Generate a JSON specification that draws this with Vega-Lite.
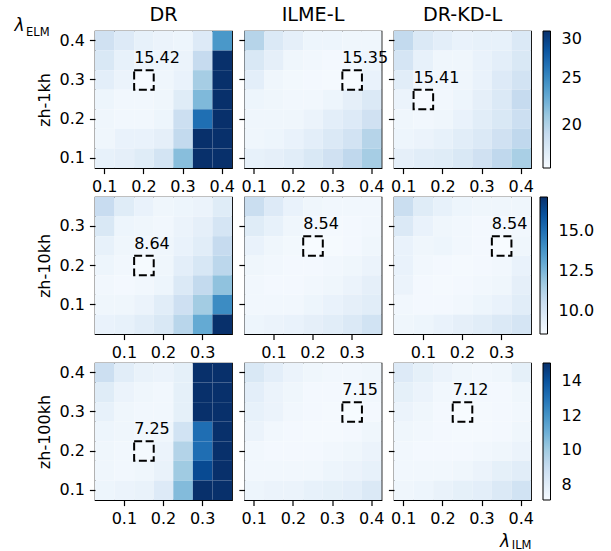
{
  "$schema": "https://vega.github.io/schema/vega-lite/v6.json",
  "background": "white",
  "padding": {"left": 14, "top": 5, "right": 5, "bottom": 0},
  "config": {
    "font": "DejaVu Sans",
    "view": {"stroke": "black", "strokeWidth": 1.2},
    "scale": {"rectBandPaddingInner": 0, "bandPaddingOuter": 0},
    "axis": {"domain": false, "grid": false, "labelFont": "DejaVu Sans", "labelFontSize": 16, "labelColor": "black", "tickColor": "black", "tickSize": 5.6, "tickWidth": 1.2, "labelPadding": 5, "titleFont": "DejaVu Sans", "titleFontSize": 16, "titleFontWeight": "normal", "titleColor": "black", "titlePadding": 6.4},
    "axisX": {"labelAngle": 0},
    "title": {"fontSize": 19.2, "fontWeight": "normal", "font": "DejaVu Sans", "color": "black", "offset": 5.6},
    "legend": {"orient": "right", "offset": 7.5, "gradientLength": 137, "gradientThickness": 7.5, "gradientStrokeColor": "black", "gradientStrokeWidth": 1, "labelFont": "DejaVu Sans", "labelFontSize": 16, "labelColor": "black", "labelOffset": 11, "labelOverlap": false, "padding": 0}
  },
  "title": {"text": "λ", "anchor": "start", "fontSize": 17, "fontStyle": "italic", "offset": 0, "dx": -11.5, "dy": 29},
  "data": {"values": [
{"set":"1kh","model":"DR","ilm":0.1,"elm":0.4,"wer":18.28},{"set":"1kh","model":"DR","ilm":0.15,"elm":0.4,"wer":17.25},{"set":"1kh","model":"DR","ilm":0.2,"elm":0.4,"wer":16.52},{"set":"1kh","model":"DR","ilm":0.25,"elm":0.4,"wer":16.23},{"set":"1kh","model":"DR","ilm":0.3,"elm":0.4,"wer":16.08},{"set":"1kh","model":"DR","ilm":0.35,"elm":0.4,"wer":17.25},{"set":"1kh","model":"DR","ilm":0.4,"elm":0.4,"wer":24.14},
{"set":"1kh","model":"DR","ilm":0.1,"elm":0.35,"wer":17.55},{"set":"1kh","model":"DR","ilm":0.15,"elm":0.35,"wer":16.52},{"set":"1kh","model":"DR","ilm":0.2,"elm":0.35,"wer":16.08},{"set":"1kh","model":"DR","ilm":0.25,"elm":0.35,"wer":16.08},{"set":"1kh","model":"DR","ilm":0.3,"elm":0.35,"wer":16.23},{"set":"1kh","model":"DR","ilm":0.35,"elm":0.35,"wer":19.01},{"set":"1kh","model":"DR","ilm":0.4,"elm":0.35,"wer":33.5},
{"set":"1kh","model":"DR","ilm":0.1,"elm":0.3,"wer":16.82},{"set":"1kh","model":"DR","ilm":0.15,"elm":0.3,"wer":16.23},{"set":"1kh","model":"DR","ilm":0.2,"elm":0.3,"wer":15.42,"best":true},{"set":"1kh","model":"DR","ilm":0.25,"elm":0.3,"wer":15.94},{"set":"1kh","model":"DR","ilm":0.3,"elm":0.3,"wer":16.38},{"set":"1kh","model":"DR","ilm":0.35,"elm":0.3,"wer":20.48},{"set":"1kh","model":"DR","ilm":0.4,"elm":0.3,"wer":36.2},
{"set":"1kh","model":"DR","ilm":0.1,"elm":0.25,"wer":16.08},{"set":"1kh","model":"DR","ilm":0.15,"elm":0.25,"wer":15.79},{"set":"1kh","model":"DR","ilm":0.2,"elm":0.25,"wer":15.79},{"set":"1kh","model":"DR","ilm":0.25,"elm":0.25,"wer":15.94},{"set":"1kh","model":"DR","ilm":0.3,"elm":0.25,"wer":17.11},{"set":"1kh","model":"DR","ilm":0.35,"elm":0.25,"wer":21.94},{"set":"1kh","model":"DR","ilm":0.4,"elm":0.25,"wer":38.9},
{"set":"1kh","model":"DR","ilm":0.1,"elm":0.2,"wer":15.94},{"set":"1kh","model":"DR","ilm":0.15,"elm":0.2,"wer":15.79},{"set":"1kh","model":"DR","ilm":0.2,"elm":0.2,"wer":15.79},{"set":"1kh","model":"DR","ilm":0.25,"elm":0.2,"wer":16.08},{"set":"1kh","model":"DR","ilm":0.3,"elm":0.2,"wer":18.57},{"set":"1kh","model":"DR","ilm":0.35,"elm":0.2,"wer":26.48},{"set":"1kh","model":"DR","ilm":0.4,"elm":0.2,"wer":41.3},
{"set":"1kh","model":"DR","ilm":0.1,"elm":0.15,"wer":15.94},{"set":"1kh","model":"DR","ilm":0.15,"elm":0.15,"wer":16.38},{"set":"1kh","model":"DR","ilm":0.2,"elm":0.15,"wer":16.38},{"set":"1kh","model":"DR","ilm":0.25,"elm":0.15,"wer":16.67},{"set":"1kh","model":"DR","ilm":0.3,"elm":0.15,"wer":19.16},{"set":"1kh","model":"DR","ilm":0.35,"elm":0.15,"wer":31.8},{"set":"1kh","model":"DR","ilm":0.4,"elm":0.15,"wer":44.6},
{"set":"1kh","model":"DR","ilm":0.1,"elm":0.1,"wer":16.52},{"set":"1kh","model":"DR","ilm":0.15,"elm":0.1,"wer":16.67},{"set":"1kh","model":"DR","ilm":0.2,"elm":0.1,"wer":17.11},{"set":"1kh","model":"DR","ilm":0.25,"elm":0.1,"wer":17.99},{"set":"1kh","model":"DR","ilm":0.3,"elm":0.1,"wer":21.65},{"set":"1kh","model":"DR","ilm":0.35,"elm":0.1,"wer":34.7},{"set":"1kh","model":"DR","ilm":0.4,"elm":0.1,"wer":48.2},
{"set":"1kh","model":"ILME-L","ilm":0.1,"elm":0.4,"wer":19.75},{"set":"1kh","model":"ILME-L","ilm":0.15,"elm":0.4,"wer":17.4},{"set":"1kh","model":"ILME-L","ilm":0.2,"elm":0.4,"wer":16.67},{"set":"1kh","model":"ILME-L","ilm":0.25,"elm":0.4,"wer":16.08},{"set":"1kh","model":"ILME-L","ilm":0.3,"elm":0.4,"wer":16.08},{"set":"1kh","model":"ILME-L","ilm":0.35,"elm":0.4,"wer":15.94},{"set":"1kh","model":"ILME-L","ilm":0.4,"elm":0.4,"wer":15.94},
{"set":"1kh","model":"ILME-L","ilm":0.1,"elm":0.35,"wer":17.55},{"set":"1kh","model":"ILME-L","ilm":0.15,"elm":0.35,"wer":16.67},{"set":"1kh","model":"ILME-L","ilm":0.2,"elm":0.35,"wer":15.94},{"set":"1kh","model":"ILME-L","ilm":0.25,"elm":0.35,"wer":15.79},{"set":"1kh","model":"ILME-L","ilm":0.3,"elm":0.35,"wer":15.64},{"set":"1kh","model":"ILME-L","ilm":0.35,"elm":0.35,"wer":15.79},{"set":"1kh","model":"ILME-L","ilm":0.4,"elm":0.35,"wer":16.08},
{"set":"1kh","model":"ILME-L","ilm":0.1,"elm":0.3,"wer":16.82},{"set":"1kh","model":"ILME-L","ilm":0.15,"elm":0.3,"wer":15.94},{"set":"1kh","model":"ILME-L","ilm":0.2,"elm":0.3,"wer":15.72},{"set":"1kh","model":"ILME-L","ilm":0.25,"elm":0.3,"wer":15.64},{"set":"1kh","model":"ILME-L","ilm":0.3,"elm":0.3,"wer":15.57},{"set":"1kh","model":"ILME-L","ilm":0.35,"elm":0.3,"wer":15.35,"best":true},{"set":"1kh","model":"ILME-L","ilm":0.4,"elm":0.3,"wer":16.38},
{"set":"1kh","model":"ILME-L","ilm":0.1,"elm":0.25,"wer":16.08},{"set":"1kh","model":"ILME-L","ilm":0.15,"elm":0.25,"wer":15.94},{"set":"1kh","model":"ILME-L","ilm":0.2,"elm":0.25,"wer":15.79},{"set":"1kh","model":"ILME-L","ilm":0.25,"elm":0.25,"wer":15.79},{"set":"1kh","model":"ILME-L","ilm":0.3,"elm":0.25,"wer":16.08},{"set":"1kh","model":"ILME-L","ilm":0.35,"elm":0.25,"wer":16.67},{"set":"1kh","model":"ILME-L","ilm":0.4,"elm":0.25,"wer":17.4},
{"set":"1kh","model":"ILME-L","ilm":0.1,"elm":0.2,"wer":15.94},{"set":"1kh","model":"ILME-L","ilm":0.15,"elm":0.2,"wer":15.94},{"set":"1kh","model":"ILME-L","ilm":0.2,"elm":0.2,"wer":15.94},{"set":"1kh","model":"ILME-L","ilm":0.25,"elm":0.2,"wer":16.23},{"set":"1kh","model":"ILME-L","ilm":0.3,"elm":0.2,"wer":16.82},{"set":"1kh","model":"ILME-L","ilm":0.35,"elm":0.2,"wer":17.25},{"set":"1kh","model":"ILME-L","ilm":0.4,"elm":0.2,"wer":18.28},
{"set":"1kh","model":"ILME-L","ilm":0.1,"elm":0.15,"wer":15.94},{"set":"1kh","model":"ILME-L","ilm":0.15,"elm":0.15,"wer":16.08},{"set":"1kh","model":"ILME-L","ilm":0.2,"elm":0.15,"wer":16.38},{"set":"1kh","model":"ILME-L","ilm":0.25,"elm":0.15,"wer":16.82},{"set":"1kh","model":"ILME-L","ilm":0.3,"elm":0.15,"wer":17.4},{"set":"1kh","model":"ILME-L","ilm":0.35,"elm":0.15,"wer":18.13},{"set":"1kh","model":"ILME-L","ilm":0.4,"elm":0.15,"wer":19.75},
{"set":"1kh","model":"ILME-L","ilm":0.1,"elm":0.1,"wer":16.52},{"set":"1kh","model":"ILME-L","ilm":0.15,"elm":0.1,"wer":16.67},{"set":"1kh","model":"ILME-L","ilm":0.2,"elm":0.1,"wer":16.96},{"set":"1kh","model":"ILME-L","ilm":0.25,"elm":0.1,"wer":17.55},{"set":"1kh","model":"ILME-L","ilm":0.3,"elm":0.1,"wer":18.28},{"set":"1kh","model":"ILME-L","ilm":0.35,"elm":0.1,"wer":19.31},{"set":"1kh","model":"ILME-L","ilm":0.4,"elm":0.1,"wer":20.48},
{"set":"1kh","model":"DR-KD-L","ilm":0.1,"elm":0.4,"wer":19.16},{"set":"1kh","model":"DR-KD-L","ilm":0.15,"elm":0.4,"wer":17.4},{"set":"1kh","model":"DR-KD-L","ilm":0.2,"elm":0.4,"wer":16.82},{"set":"1kh","model":"DR-KD-L","ilm":0.25,"elm":0.4,"wer":16.38},{"set":"1kh","model":"DR-KD-L","ilm":0.3,"elm":0.4,"wer":16.52},{"set":"1kh","model":"DR-KD-L","ilm":0.35,"elm":0.4,"wer":16.52},{"set":"1kh","model":"DR-KD-L","ilm":0.4,"elm":0.4,"wer":17.4},
{"set":"1kh","model":"DR-KD-L","ilm":0.1,"elm":0.35,"wer":17.84},{"set":"1kh","model":"DR-KD-L","ilm":0.15,"elm":0.35,"wer":16.52},{"set":"1kh","model":"DR-KD-L","ilm":0.2,"elm":0.35,"wer":15.94},{"set":"1kh","model":"DR-KD-L","ilm":0.25,"elm":0.35,"wer":15.94},{"set":"1kh","model":"DR-KD-L","ilm":0.3,"elm":0.35,"wer":16.38},{"set":"1kh","model":"DR-KD-L","ilm":0.35,"elm":0.35,"wer":16.82},{"set":"1kh","model":"DR-KD-L","ilm":0.4,"elm":0.35,"wer":17.55},
{"set":"1kh","model":"DR-KD-L","ilm":0.1,"elm":0.3,"wer":16.96},{"set":"1kh","model":"DR-KD-L","ilm":0.15,"elm":0.3,"wer":15.94},{"set":"1kh","model":"DR-KD-L","ilm":0.2,"elm":0.3,"wer":15.79},{"set":"1kh","model":"DR-KD-L","ilm":0.25,"elm":0.3,"wer":15.94},{"set":"1kh","model":"DR-KD-L","ilm":0.3,"elm":0.3,"wer":16.38},{"set":"1kh","model":"DR-KD-L","ilm":0.35,"elm":0.3,"wer":17.25},{"set":"1kh","model":"DR-KD-L","ilm":0.4,"elm":0.3,"wer":18.13},
{"set":"1kh","model":"DR-KD-L","ilm":0.1,"elm":0.25,"wer":16.23},{"set":"1kh","model":"DR-KD-L","ilm":0.15,"elm":0.25,"wer":15.41,"best":true},{"set":"1kh","model":"DR-KD-L","ilm":0.2,"elm":0.25,"wer":15.79},{"set":"1kh","model":"DR-KD-L","ilm":0.25,"elm":0.25,"wer":16.08},{"set":"1kh","model":"DR-KD-L","ilm":0.3,"elm":0.25,"wer":16.67},{"set":"1kh","model":"DR-KD-L","ilm":0.35,"elm":0.25,"wer":17.4},{"set":"1kh","model":"DR-KD-L","ilm":0.4,"elm":0.25,"wer":19.01},
{"set":"1kh","model":"DR-KD-L","ilm":0.1,"elm":0.2,"wer":15.94},{"set":"1kh","model":"DR-KD-L","ilm":0.15,"elm":0.2,"wer":15.79},{"set":"1kh","model":"DR-KD-L","ilm":0.2,"elm":0.2,"wer":15.94},{"set":"1kh","model":"DR-KD-L","ilm":0.25,"elm":0.2,"wer":16.38},{"set":"1kh","model":"DR-KD-L","ilm":0.3,"elm":0.2,"wer":16.96},{"set":"1kh","model":"DR-KD-L","ilm":0.35,"elm":0.2,"wer":17.55},{"set":"1kh","model":"DR-KD-L","ilm":0.4,"elm":0.2,"wer":18.57},
{"set":"1kh","model":"DR-KD-L","ilm":0.1,"elm":0.15,"wer":16.08},{"set":"1kh","model":"DR-KD-L","ilm":0.15,"elm":0.15,"wer":16.23},{"set":"1kh","model":"DR-KD-L","ilm":0.2,"elm":0.15,"wer":16.52},{"set":"1kh","model":"DR-KD-L","ilm":0.25,"elm":0.15,"wer":16.96},{"set":"1kh","model":"DR-KD-L","ilm":0.3,"elm":0.15,"wer":17.4},{"set":"1kh","model":"DR-KD-L","ilm":0.35,"elm":0.15,"wer":18.28},{"set":"1kh","model":"DR-KD-L","ilm":0.4,"elm":0.15,"wer":19.31},
{"set":"1kh","model":"DR-KD-L","ilm":0.1,"elm":0.1,"wer":16.67},{"set":"1kh","model":"DR-KD-L","ilm":0.15,"elm":0.1,"wer":16.96},{"set":"1kh","model":"DR-KD-L","ilm":0.2,"elm":0.1,"wer":17.11},{"set":"1kh","model":"DR-KD-L","ilm":0.25,"elm":0.1,"wer":17.55},{"set":"1kh","model":"DR-KD-L","ilm":0.3,"elm":0.1,"wer":18.28},{"set":"1kh","model":"DR-KD-L","ilm":0.35,"elm":0.1,"wer":19.31},{"set":"1kh","model":"DR-KD-L","ilm":0.4,"elm":0.1,"wer":20.33},
{"set":"10kh","model":"DR","ilm":0.05,"elm":0.35,"wer":10.59},{"set":"10kh","model":"DR","ilm":0.1,"elm":0.35,"wer":9.57},{"set":"10kh","model":"DR","ilm":0.15,"elm":0.35,"wer":9.14},{"set":"10kh","model":"DR","ilm":0.2,"elm":0.35,"wer":8.88},{"set":"10kh","model":"DR","ilm":0.25,"elm":0.35,"wer":8.97},{"set":"10kh","model":"DR","ilm":0.3,"elm":0.35,"wer":9.05},{"set":"10kh","model":"DR","ilm":0.35,"elm":0.35,"wer":9.57},
{"set":"10kh","model":"DR","ilm":0.05,"elm":0.3,"wer":9.82},{"set":"10kh","model":"DR","ilm":0.1,"elm":0.3,"wer":8.97},{"set":"10kh","model":"DR","ilm":0.15,"elm":0.3,"wer":8.88},{"set":"10kh","model":"DR","ilm":0.2,"elm":0.3,"wer":8.8},{"set":"10kh","model":"DR","ilm":0.25,"elm":0.3,"wer":9.05},{"set":"10kh","model":"DR","ilm":0.3,"elm":0.3,"wer":9.31},{"set":"10kh","model":"DR","ilm":0.35,"elm":0.3,"wer":9.99},
{"set":"10kh","model":"DR","ilm":0.05,"elm":0.25,"wer":9.22},{"set":"10kh","model":"DR","ilm":0.1,"elm":0.25,"wer":8.88},{"set":"10kh","model":"DR","ilm":0.15,"elm":0.25,"wer":8.8},{"set":"10kh","model":"DR","ilm":0.2,"elm":0.25,"wer":8.88},{"set":"10kh","model":"DR","ilm":0.25,"elm":0.25,"wer":9.14},{"set":"10kh","model":"DR","ilm":0.3,"elm":0.25,"wer":9.48},{"set":"10kh","model":"DR","ilm":0.35,"elm":0.25,"wer":10.68},
{"set":"10kh","model":"DR","ilm":0.05,"elm":0.2,"wer":8.97},{"set":"10kh","model":"DR","ilm":0.1,"elm":0.2,"wer":8.8},{"set":"10kh","model":"DR","ilm":0.15,"elm":0.2,"wer":8.64,"best":true},{"set":"10kh","model":"DR","ilm":0.2,"elm":0.2,"wer":8.88},{"set":"10kh","model":"DR","ilm":0.25,"elm":0.2,"wer":9.4},{"set":"10kh","model":"DR","ilm":0.3,"elm":0.2,"wer":9.91},{"set":"10kh","model":"DR","ilm":0.35,"elm":0.2,"wer":10.94},
{"set":"10kh","model":"DR","ilm":0.05,"elm":0.15,"wer":8.8},{"set":"10kh","model":"DR","ilm":0.1,"elm":0.15,"wer":8.71},{"set":"10kh","model":"DR","ilm":0.15,"elm":0.15,"wer":8.8},{"set":"10kh","model":"DR","ilm":0.2,"elm":0.15,"wer":8.97},{"set":"10kh","model":"DR","ilm":0.25,"elm":0.15,"wer":9.74},{"set":"10kh","model":"DR","ilm":0.3,"elm":0.15,"wer":10.77},{"set":"10kh","model":"DR","ilm":0.35,"elm":0.15,"wer":12.05},
{"set":"10kh","model":"DR","ilm":0.05,"elm":0.1,"wer":8.88},{"set":"10kh","model":"DR","ilm":0.1,"elm":0.1,"wer":8.88},{"set":"10kh","model":"DR","ilm":0.15,"elm":0.1,"wer":9.05},{"set":"10kh","model":"DR","ilm":0.2,"elm":0.1,"wer":9.48},{"set":"10kh","model":"DR","ilm":0.25,"elm":0.1,"wer":10.34},{"set":"10kh","model":"DR","ilm":0.3,"elm":0.1,"wer":11.62},{"set":"10kh","model":"DR","ilm":0.35,"elm":0.1,"wer":14.1},
{"set":"10kh","model":"DR","ilm":0.05,"elm":0.05,"wer":9.14},{"set":"10kh","model":"DR","ilm":0.1,"elm":0.05,"wer":9.22},{"set":"10kh","model":"DR","ilm":0.15,"elm":0.05,"wer":9.48},{"set":"10kh","model":"DR","ilm":0.2,"elm":0.05,"wer":9.82},{"set":"10kh","model":"DR","ilm":0.25,"elm":0.05,"wer":11.02},{"set":"10kh","model":"DR","ilm":0.3,"elm":0.05,"wer":12.99},{"set":"10kh","model":"DR","ilm":0.35,"elm":0.05,"wer":17.6},
{"set":"10kh","model":"ILME-L","ilm":0.05,"elm":0.35,"wer":10.51},{"set":"10kh","model":"ILME-L","ilm":0.1,"elm":0.35,"wer":9.65},{"set":"10kh","model":"ILME-L","ilm":0.15,"elm":0.35,"wer":9.14},{"set":"10kh","model":"ILME-L","ilm":0.2,"elm":0.35,"wer":8.88},{"set":"10kh","model":"ILME-L","ilm":0.25,"elm":0.35,"wer":8.8},{"set":"10kh","model":"ILME-L","ilm":0.3,"elm":0.35,"wer":8.8},{"set":"10kh","model":"ILME-L","ilm":0.35,"elm":0.35,"wer":8.8},
{"set":"10kh","model":"ILME-L","ilm":0.05,"elm":0.3,"wer":9.57},{"set":"10kh","model":"ILME-L","ilm":0.1,"elm":0.3,"wer":9.22},{"set":"10kh","model":"ILME-L","ilm":0.15,"elm":0.3,"wer":8.88},{"set":"10kh","model":"ILME-L","ilm":0.2,"elm":0.3,"wer":8.71},{"set":"10kh","model":"ILME-L","ilm":0.25,"elm":0.3,"wer":8.67},{"set":"10kh","model":"ILME-L","ilm":0.3,"elm":0.3,"wer":8.71},{"set":"10kh","model":"ILME-L","ilm":0.35,"elm":0.3,"wer":8.8},
{"set":"10kh","model":"ILME-L","ilm":0.05,"elm":0.25,"wer":9.14},{"set":"10kh","model":"ILME-L","ilm":0.1,"elm":0.25,"wer":8.88},{"set":"10kh","model":"ILME-L","ilm":0.15,"elm":0.25,"wer":8.75},{"set":"10kh","model":"ILME-L","ilm":0.2,"elm":0.25,"wer":8.54,"best":true},{"set":"10kh","model":"ILME-L","ilm":0.25,"elm":0.25,"wer":8.63},{"set":"10kh","model":"ILME-L","ilm":0.3,"elm":0.25,"wer":8.71},{"set":"10kh","model":"ILME-L","ilm":0.35,"elm":0.25,"wer":8.88},
{"set":"10kh","model":"ILME-L","ilm":0.05,"elm":0.2,"wer":8.88},{"set":"10kh","model":"ILME-L","ilm":0.1,"elm":0.2,"wer":8.8},{"set":"10kh","model":"ILME-L","ilm":0.15,"elm":0.2,"wer":8.71},{"set":"10kh","model":"ILME-L","ilm":0.2,"elm":0.2,"wer":8.71},{"set":"10kh","model":"ILME-L","ilm":0.25,"elm":0.2,"wer":8.8},{"set":"10kh","model":"ILME-L","ilm":0.3,"elm":0.2,"wer":8.88},{"set":"10kh","model":"ILME-L","ilm":0.35,"elm":0.2,"wer":9.05},
{"set":"10kh","model":"ILME-L","ilm":0.05,"elm":0.15,"wer":8.8},{"set":"10kh","model":"ILME-L","ilm":0.1,"elm":0.15,"wer":8.71},{"set":"10kh","model":"ILME-L","ilm":0.15,"elm":0.15,"wer":8.71},{"set":"10kh","model":"ILME-L","ilm":0.2,"elm":0.15,"wer":8.8},{"set":"10kh","model":"ILME-L","ilm":0.25,"elm":0.15,"wer":8.88},{"set":"10kh","model":"ILME-L","ilm":0.3,"elm":0.15,"wer":9.05},{"set":"10kh","model":"ILME-L","ilm":0.35,"elm":0.15,"wer":9.31},
{"set":"10kh","model":"ILME-L","ilm":0.05,"elm":0.1,"wer":8.8},{"set":"10kh","model":"ILME-L","ilm":0.1,"elm":0.1,"wer":8.8},{"set":"10kh","model":"ILME-L","ilm":0.15,"elm":0.1,"wer":8.8},{"set":"10kh","model":"ILME-L","ilm":0.2,"elm":0.1,"wer":8.97},{"set":"10kh","model":"ILME-L","ilm":0.25,"elm":0.1,"wer":9.14},{"set":"10kh","model":"ILME-L","ilm":0.3,"elm":0.1,"wer":9.31},{"set":"10kh","model":"ILME-L","ilm":0.35,"elm":0.1,"wer":9.48},
{"set":"10kh","model":"ILME-L","ilm":0.05,"elm":0.05,"wer":8.97},{"set":"10kh","model":"ILME-L","ilm":0.1,"elm":0.05,"wer":9.05},{"set":"10kh","model":"ILME-L","ilm":0.15,"elm":0.05,"wer":9.14},{"set":"10kh","model":"ILME-L","ilm":0.2,"elm":0.05,"wer":9.31},{"set":"10kh","model":"ILME-L","ilm":0.25,"elm":0.05,"wer":9.48},{"set":"10kh","model":"ILME-L","ilm":0.3,"elm":0.05,"wer":9.74},{"set":"10kh","model":"ILME-L","ilm":0.35,"elm":0.05,"wer":10.17},
{"set":"10kh","model":"DR-KD-L","ilm":0.05,"elm":0.35,"wer":10.51},{"set":"10kh","model":"DR-KD-L","ilm":0.1,"elm":0.35,"wer":9.57},{"set":"10kh","model":"DR-KD-L","ilm":0.15,"elm":0.35,"wer":9.22},{"set":"10kh","model":"DR-KD-L","ilm":0.2,"elm":0.35,"wer":8.97},{"set":"10kh","model":"DR-KD-L","ilm":0.25,"elm":0.35,"wer":8.88},{"set":"10kh","model":"DR-KD-L","ilm":0.3,"elm":0.35,"wer":8.88},{"set":"10kh","model":"DR-KD-L","ilm":0.35,"elm":0.35,"wer":8.88},
{"set":"10kh","model":"DR-KD-L","ilm":0.05,"elm":0.3,"wer":9.74},{"set":"10kh","model":"DR-KD-L","ilm":0.1,"elm":0.3,"wer":9.14},{"set":"10kh","model":"DR-KD-L","ilm":0.15,"elm":0.3,"wer":8.88},{"set":"10kh","model":"DR-KD-L","ilm":0.2,"elm":0.3,"wer":8.8},{"set":"10kh","model":"DR-KD-L","ilm":0.25,"elm":0.3,"wer":8.71},{"set":"10kh","model":"DR-KD-L","ilm":0.3,"elm":0.3,"wer":8.71},{"set":"10kh","model":"DR-KD-L","ilm":0.35,"elm":0.3,"wer":8.8},
{"set":"10kh","model":"DR-KD-L","ilm":0.05,"elm":0.25,"wer":9.14},{"set":"10kh","model":"DR-KD-L","ilm":0.1,"elm":0.25,"wer":8.88},{"set":"10kh","model":"DR-KD-L","ilm":0.15,"elm":0.25,"wer":8.97},{"set":"10kh","model":"DR-KD-L","ilm":0.2,"elm":0.25,"wer":8.8},{"set":"10kh","model":"DR-KD-L","ilm":0.25,"elm":0.25,"wer":8.71},{"set":"10kh","model":"DR-KD-L","ilm":0.3,"elm":0.25,"wer":8.54,"best":true},{"set":"10kh","model":"DR-KD-L","ilm":0.35,"elm":0.25,"wer":8.88},
{"set":"10kh","model":"DR-KD-L","ilm":0.05,"elm":0.2,"wer":9.14},{"set":"10kh","model":"DR-KD-L","ilm":0.1,"elm":0.2,"wer":8.8},{"set":"10kh","model":"DR-KD-L","ilm":0.15,"elm":0.2,"wer":8.71},{"set":"10kh","model":"DR-KD-L","ilm":0.2,"elm":0.2,"wer":8.67},{"set":"10kh","model":"DR-KD-L","ilm":0.25,"elm":0.2,"wer":8.71},{"set":"10kh","model":"DR-KD-L","ilm":0.3,"elm":0.2,"wer":8.8},{"set":"10kh","model":"DR-KD-L","ilm":0.35,"elm":0.2,"wer":9.14},
{"set":"10kh","model":"DR-KD-L","ilm":0.05,"elm":0.15,"wer":9.05},{"set":"10kh","model":"DR-KD-L","ilm":0.1,"elm":0.15,"wer":8.71},{"set":"10kh","model":"DR-KD-L","ilm":0.15,"elm":0.15,"wer":8.67},{"set":"10kh","model":"DR-KD-L","ilm":0.2,"elm":0.15,"wer":8.71},{"set":"10kh","model":"DR-KD-L","ilm":0.25,"elm":0.15,"wer":8.8},{"set":"10kh","model":"DR-KD-L","ilm":0.3,"elm":0.15,"wer":8.88},{"set":"10kh","model":"DR-KD-L","ilm":0.35,"elm":0.15,"wer":9.31},
{"set":"10kh","model":"DR-KD-L","ilm":0.05,"elm":0.1,"wer":8.8},{"set":"10kh","model":"DR-KD-L","ilm":0.1,"elm":0.1,"wer":8.71},{"set":"10kh","model":"DR-KD-L","ilm":0.15,"elm":0.1,"wer":8.71},{"set":"10kh","model":"DR-KD-L","ilm":0.2,"elm":0.1,"wer":8.8},{"set":"10kh","model":"DR-KD-L","ilm":0.25,"elm":0.1,"wer":8.97},{"set":"10kh","model":"DR-KD-L","ilm":0.3,"elm":0.1,"wer":9.14},{"set":"10kh","model":"DR-KD-L","ilm":0.35,"elm":0.1,"wer":9.48},
{"set":"10kh","model":"DR-KD-L","ilm":0.05,"elm":0.05,"wer":8.88},{"set":"10kh","model":"DR-KD-L","ilm":0.1,"elm":0.05,"wer":8.97},{"set":"10kh","model":"DR-KD-L","ilm":0.15,"elm":0.05,"wer":9.14},{"set":"10kh","model":"DR-KD-L","ilm":0.2,"elm":0.05,"wer":9.31},{"set":"10kh","model":"DR-KD-L","ilm":0.25,"elm":0.05,"wer":9.48},{"set":"10kh","model":"DR-KD-L","ilm":0.3,"elm":0.05,"wer":9.74},{"set":"10kh","model":"DR-KD-L","ilm":0.35,"elm":0.05,"wer":9.99},
{"set":"100kh","model":"DR","ilm":0.05,"elm":0.4,"wer":8.86},{"set":"100kh","model":"DR","ilm":0.1,"elm":0.4,"wer":7.99},{"set":"100kh","model":"DR","ilm":0.15,"elm":0.4,"wer":7.68},{"set":"100kh","model":"DR","ilm":0.2,"elm":0.4,"wer":7.6},{"set":"100kh","model":"DR","ilm":0.25,"elm":0.4,"wer":7.83},{"set":"100kh","model":"DR","ilm":0.3,"elm":0.4,"wer":16.8},{"set":"100kh","model":"DR","ilm":0.35,"elm":0.4,"wer":19.5},
{"set":"100kh","model":"DR","ilm":0.05,"elm":0.35,"wer":8.07},{"set":"100kh","model":"DR","ilm":0.1,"elm":0.35,"wer":7.6},{"set":"100kh","model":"DR","ilm":0.15,"elm":0.35,"wer":7.44},{"set":"100kh","model":"DR","ilm":0.2,"elm":0.35,"wer":7.36},{"set":"100kh","model":"DR","ilm":0.25,"elm":0.35,"wer":7.83},{"set":"100kh","model":"DR","ilm":0.3,"elm":0.35,"wer":16.2},{"set":"100kh","model":"DR","ilm":0.35,"elm":0.35,"wer":18.9},
{"set":"100kh","model":"DR","ilm":0.05,"elm":0.3,"wer":7.75},{"set":"100kh","model":"DR","ilm":0.1,"elm":0.3,"wer":7.44},{"set":"100kh","model":"DR","ilm":0.15,"elm":0.3,"wer":7.36},{"set":"100kh","model":"DR","ilm":0.2,"elm":0.3,"wer":7.36},{"set":"100kh","model":"DR","ilm":0.25,"elm":0.3,"wer":7.83},{"set":"100kh","model":"DR","ilm":0.3,"elm":0.3,"wer":15.6},{"set":"100kh","model":"DR","ilm":0.35,"elm":0.3,"wer":18.4},
{"set":"100kh","model":"DR","ilm":0.05,"elm":0.25,"wer":7.52},{"set":"100kh","model":"DR","ilm":0.1,"elm":0.25,"wer":7.44},{"set":"100kh","model":"DR","ilm":0.15,"elm":0.25,"wer":7.36},{"set":"100kh","model":"DR","ilm":0.2,"elm":0.25,"wer":7.44},{"set":"100kh","model":"DR","ilm":0.25,"elm":0.25,"wer":8.63},{"set":"100kh","model":"DR","ilm":0.3,"elm":0.25,"wer":13.15},{"set":"100kh","model":"DR","ilm":0.35,"elm":0.25,"wer":17.9},
{"set":"100kh","model":"DR","ilm":0.05,"elm":0.2,"wer":7.44},{"set":"100kh","model":"DR","ilm":0.1,"elm":0.2,"wer":7.36},{"set":"100kh","model":"DR","ilm":0.15,"elm":0.2,"wer":7.25,"best":true},{"set":"100kh","model":"DR","ilm":0.2,"elm":0.2,"wer":7.6},{"set":"100kh","model":"DR","ilm":0.25,"elm":0.2,"wer":9.58},{"set":"100kh","model":"DR","ilm":0.3,"elm":0.2,"wer":13.15},{"set":"100kh","model":"DR","ilm":0.35,"elm":0.2,"wer":17.5},
{"set":"100kh","model":"DR","ilm":0.05,"elm":0.15,"wer":7.44},{"set":"100kh","model":"DR","ilm":0.1,"elm":0.15,"wer":7.36},{"set":"100kh","model":"DR","ilm":0.15,"elm":0.15,"wer":7.44},{"set":"100kh","model":"DR","ilm":0.2,"elm":0.15,"wer":7.68},{"set":"100kh","model":"DR","ilm":0.25,"elm":0.15,"wer":10.05},{"set":"100kh","model":"DR","ilm":0.3,"elm":0.15,"wer":14.26},{"set":"100kh","model":"DR","ilm":0.35,"elm":0.15,"wer":17.2},
{"set":"100kh","model":"DR","ilm":0.05,"elm":0.1,"wer":7.52},{"set":"100kh","model":"DR","ilm":0.1,"elm":0.1,"wer":7.6},{"set":"100kh","model":"DR","ilm":0.15,"elm":0.1,"wer":7.68},{"set":"100kh","model":"DR","ilm":0.2,"elm":0.1,"wer":8.15},{"set":"100kh","model":"DR","ilm":0.25,"elm":0.1,"wer":10.61},{"set":"100kh","model":"DR","ilm":0.3,"elm":0.1,"wer":15.4},{"set":"100kh","model":"DR","ilm":0.35,"elm":0.1,"wer":16.9},
{"set":"100kh","model":"ILME-L","ilm":0.1,"elm":0.4,"wer":8.31},{"set":"100kh","model":"ILME-L","ilm":0.15,"elm":0.4,"wer":7.91},{"set":"100kh","model":"ILME-L","ilm":0.2,"elm":0.4,"wer":7.6},{"set":"100kh","model":"ILME-L","ilm":0.25,"elm":0.4,"wer":7.44},{"set":"100kh","model":"ILME-L","ilm":0.3,"elm":0.4,"wer":7.36},{"set":"100kh","model":"ILME-L","ilm":0.35,"elm":0.4,"wer":7.36},{"set":"100kh","model":"ILME-L","ilm":0.4,"elm":0.4,"wer":7.44},
{"set":"100kh","model":"ILME-L","ilm":0.1,"elm":0.35,"wer":7.91},{"set":"100kh","model":"ILME-L","ilm":0.15,"elm":0.35,"wer":7.6},{"set":"100kh","model":"ILME-L","ilm":0.2,"elm":0.35,"wer":7.44},{"set":"100kh","model":"ILME-L","ilm":0.25,"elm":0.35,"wer":7.28},{"set":"100kh","model":"ILME-L","ilm":0.3,"elm":0.35,"wer":7.28},{"set":"100kh","model":"ILME-L","ilm":0.35,"elm":0.35,"wer":7.24},{"set":"100kh","model":"ILME-L","ilm":0.4,"elm":0.35,"wer":7.36},
{"set":"100kh","model":"ILME-L","ilm":0.1,"elm":0.3,"wer":7.75},{"set":"100kh","model":"ILME-L","ilm":0.15,"elm":0.3,"wer":7.6},{"set":"100kh","model":"ILME-L","ilm":0.2,"elm":0.3,"wer":7.36},{"set":"100kh","model":"ILME-L","ilm":0.25,"elm":0.3,"wer":7.28},{"set":"100kh","model":"ILME-L","ilm":0.3,"elm":0.3,"wer":7.24},{"set":"100kh","model":"ILME-L","ilm":0.35,"elm":0.3,"wer":7.15,"best":true},{"set":"100kh","model":"ILME-L","ilm":0.4,"elm":0.3,"wer":7.28},
{"set":"100kh","model":"ILME-L","ilm":0.1,"elm":0.25,"wer":7.6},{"set":"100kh","model":"ILME-L","ilm":0.15,"elm":0.25,"wer":7.36},{"set":"100kh","model":"ILME-L","ilm":0.2,"elm":0.25,"wer":7.28},{"set":"100kh","model":"ILME-L","ilm":0.25,"elm":0.25,"wer":7.24},{"set":"100kh","model":"ILME-L","ilm":0.3,"elm":0.25,"wer":7.24},{"set":"100kh","model":"ILME-L","ilm":0.35,"elm":0.25,"wer":7.28},{"set":"100kh","model":"ILME-L","ilm":0.4,"elm":0.25,"wer":7.44},
{"set":"100kh","model":"ILME-L","ilm":0.1,"elm":0.2,"wer":7.36},{"set":"100kh","model":"ILME-L","ilm":0.15,"elm":0.2,"wer":7.28},{"set":"100kh","model":"ILME-L","ilm":0.2,"elm":0.2,"wer":7.28},{"set":"100kh","model":"ILME-L","ilm":0.25,"elm":0.2,"wer":7.28},{"set":"100kh","model":"ILME-L","ilm":0.3,"elm":0.2,"wer":7.36},{"set":"100kh","model":"ILME-L","ilm":0.35,"elm":0.2,"wer":7.44},{"set":"100kh","model":"ILME-L","ilm":0.4,"elm":0.2,"wer":7.6},
{"set":"100kh","model":"ILME-L","ilm":0.1,"elm":0.15,"wer":7.36},{"set":"100kh","model":"ILME-L","ilm":0.15,"elm":0.15,"wer":7.36},{"set":"100kh","model":"ILME-L","ilm":0.2,"elm":0.15,"wer":7.36},{"set":"100kh","model":"ILME-L","ilm":0.25,"elm":0.15,"wer":7.36},{"set":"100kh","model":"ILME-L","ilm":0.3,"elm":0.15,"wer":7.52},{"set":"100kh","model":"ILME-L","ilm":0.35,"elm":0.15,"wer":7.6},{"set":"100kh","model":"ILME-L","ilm":0.4,"elm":0.15,"wer":7.75},
{"set":"100kh","model":"ILME-L","ilm":0.1,"elm":0.1,"wer":7.52},{"set":"100kh","model":"ILME-L","ilm":0.15,"elm":0.1,"wer":7.6},{"set":"100kh","model":"ILME-L","ilm":0.2,"elm":0.1,"wer":7.6},{"set":"100kh","model":"ILME-L","ilm":0.25,"elm":0.1,"wer":7.75},{"set":"100kh","model":"ILME-L","ilm":0.3,"elm":0.1,"wer":7.83},{"set":"100kh","model":"ILME-L","ilm":0.35,"elm":0.1,"wer":7.91},{"set":"100kh","model":"ILME-L","ilm":0.4,"elm":0.1,"wer":8.23},
{"set":"100kh","model":"DR-KD-L","ilm":0.1,"elm":0.4,"wer":8.15},{"set":"100kh","model":"DR-KD-L","ilm":0.15,"elm":0.4,"wer":7.83},{"set":"100kh","model":"DR-KD-L","ilm":0.2,"elm":0.4,"wer":7.6},{"set":"100kh","model":"DR-KD-L","ilm":0.25,"elm":0.4,"wer":7.44},{"set":"100kh","model":"DR-KD-L","ilm":0.3,"elm":0.4,"wer":7.36},{"set":"100kh","model":"DR-KD-L","ilm":0.35,"elm":0.4,"wer":7.44},{"set":"100kh","model":"DR-KD-L","ilm":0.4,"elm":0.4,"wer":7.83},
{"set":"100kh","model":"DR-KD-L","ilm":0.1,"elm":0.35,"wer":7.83},{"set":"100kh","model":"DR-KD-L","ilm":0.15,"elm":0.35,"wer":7.6},{"set":"100kh","model":"DR-KD-L","ilm":0.2,"elm":0.35,"wer":7.36},{"set":"100kh","model":"DR-KD-L","ilm":0.25,"elm":0.35,"wer":7.28},{"set":"100kh","model":"DR-KD-L","ilm":0.3,"elm":0.35,"wer":7.28},{"set":"100kh","model":"DR-KD-L","ilm":0.35,"elm":0.35,"wer":7.28},{"set":"100kh","model":"DR-KD-L","ilm":0.4,"elm":0.35,"wer":7.44},
{"set":"100kh","model":"DR-KD-L","ilm":0.1,"elm":0.3,"wer":7.6},{"set":"100kh","model":"DR-KD-L","ilm":0.15,"elm":0.3,"wer":7.44},{"set":"100kh","model":"DR-KD-L","ilm":0.2,"elm":0.3,"wer":7.28},{"set":"100kh","model":"DR-KD-L","ilm":0.25,"elm":0.3,"wer":7.12,"best":true},{"set":"100kh","model":"DR-KD-L","ilm":0.3,"elm":0.3,"wer":7.24},{"set":"100kh","model":"DR-KD-L","ilm":0.35,"elm":0.3,"wer":7.28},{"set":"100kh","model":"DR-KD-L","ilm":0.4,"elm":0.3,"wer":7.36},
{"set":"100kh","model":"DR-KD-L","ilm":0.1,"elm":0.25,"wer":7.44},{"set":"100kh","model":"DR-KD-L","ilm":0.15,"elm":0.25,"wer":7.36},{"set":"100kh","model":"DR-KD-L","ilm":0.2,"elm":0.25,"wer":7.28},{"set":"100kh","model":"DR-KD-L","ilm":0.25,"elm":0.25,"wer":7.24},{"set":"100kh","model":"DR-KD-L","ilm":0.3,"elm":0.25,"wer":7.24},{"set":"100kh","model":"DR-KD-L","ilm":0.35,"elm":0.25,"wer":7.28},{"set":"100kh","model":"DR-KD-L","ilm":0.4,"elm":0.25,"wer":7.44},
{"set":"100kh","model":"DR-KD-L","ilm":0.1,"elm":0.2,"wer":7.36},{"set":"100kh","model":"DR-KD-L","ilm":0.15,"elm":0.2,"wer":7.28},{"set":"100kh","model":"DR-KD-L","ilm":0.2,"elm":0.2,"wer":7.28},{"set":"100kh","model":"DR-KD-L","ilm":0.25,"elm":0.2,"wer":7.28},{"set":"100kh","model":"DR-KD-L","ilm":0.3,"elm":0.2,"wer":7.36},{"set":"100kh","model":"DR-KD-L","ilm":0.35,"elm":0.2,"wer":7.44},{"set":"100kh","model":"DR-KD-L","ilm":0.4,"elm":0.2,"wer":7.6},
{"set":"100kh","model":"DR-KD-L","ilm":0.1,"elm":0.15,"wer":7.36},{"set":"100kh","model":"DR-KD-L","ilm":0.15,"elm":0.15,"wer":7.36},{"set":"100kh","model":"DR-KD-L","ilm":0.2,"elm":0.15,"wer":7.36},{"set":"100kh","model":"DR-KD-L","ilm":0.25,"elm":0.15,"wer":7.44},{"set":"100kh","model":"DR-KD-L","ilm":0.3,"elm":0.15,"wer":7.6},{"set":"100kh","model":"DR-KD-L","ilm":0.35,"elm":0.15,"wer":7.83},{"set":"100kh","model":"DR-KD-L","ilm":0.4,"elm":0.15,"wer":7.99},
{"set":"100kh","model":"DR-KD-L","ilm":0.1,"elm":0.1,"wer":7.44},{"set":"100kh","model":"DR-KD-L","ilm":0.15,"elm":0.1,"wer":7.52},{"set":"100kh","model":"DR-KD-L","ilm":0.2,"elm":0.1,"wer":7.68},{"set":"100kh","model":"DR-KD-L","ilm":0.25,"elm":0.1,"wer":7.83},{"set":"100kh","model":"DR-KD-L","ilm":0.3,"elm":0.1,"wer":7.91},{"set":"100kh","model":"DR-KD-L","ilm":0.35,"elm":0.1,"wer":8.23},{"set":"100kh","model":"DR-KD-L","ilm":0.4,"elm":0.1,"wer":8.63}
  ]},
  "spacing": 0,
  "resolve": {"scale": {"color": "independent"}},
  "vconcat": [
    {
      "title": {"text": "ELM", "anchor": "start", "fontSize": 11.5, "offset": 0, "dx": -10, "dy": 33},
      "hconcat": [
        {"width": 137, "height": 137, "title": "DR",
         "transform": [{"filter": "datum.set === '1kh' && datum.model === 'DR'"}],
         "encoding": {
           "x": {"field": "ilm", "type": "ordinal", "axis": {"values": [0.1, 0.2, 0.3, 0.4], "title": null}},
           "y": {"field": "elm", "type": "ordinal", "sort": "descending", "axis": {"values": [0.1, 0.2, 0.3, 0.4], "title": "zh-1kh"}}
         },
         "layer": [
           {"mark": {"type": "rect"}, "encoding": {"color": {"field": "wer", "type": "quantitative", "scale": {"domain": [15.35, 30], "range": ["#f7fbff", "#deebf7", "#c6dbef", "#9ecae1", "#6baed6", "#4292c6", "#2171b5", "#08519c", "#08306b"], "interpolate": "rgb", "clamp": true}, "legend": {"title": null, "values": [20, 25, 30], "labelOffset": 11, "labelBaseline": "middle"}}}},
           {"transform": [{"filter": "datum.best"}], "mark": {"type": "rect", "filled": false, "stroke": "black", "strokeWidth": 2, "strokeDash": [8, 3.5]}},
           {"transform": [{"filter": "datum.best"}], "mark": {"type": "text", "align": "left", "baseline": "alphabetic", "dy": -7, "fontSize": 16, "color": "black"},
            "encoding": {"x": {"field": "ilm", "type": "ordinal", "bandPosition": 0, "axis": {"values": [0.1, 0.2, 0.3, 0.4], "title": null}}, "y": {"field": "elm", "type": "ordinal", "sort": "descending", "bandPosition": 0, "axis": {"values": [0.1, 0.2, 0.3, 0.4], "title": "zh-1kh"}}, "text": {"field": "wer", "type": "quantitative", "format": ".2f"}}}
         ]},
        {"width": 137, "height": 137, "title": "ILME-L",
         "transform": [{"filter": "datum.set === '1kh' && datum.model === 'ILME-L'"}],
         "encoding": {
           "x": {"field": "ilm", "type": "ordinal", "axis": {"values": [0.1, 0.2, 0.3, 0.4], "title": null}},
           "y": {"field": "elm", "type": "ordinal", "sort": "descending", "axis": {"values": [0.1, 0.2, 0.3, 0.4], "title": null, "labels": false}}
         },
         "layer": [
           {"mark": {"type": "rect"}, "encoding": {"color": {"field": "wer", "type": "quantitative", "scale": {"domain": [15.35, 30], "range": ["#f7fbff", "#deebf7", "#c6dbef", "#9ecae1", "#6baed6", "#4292c6", "#2171b5", "#08519c", "#08306b"], "interpolate": "rgb", "clamp": true}, "legend": {"title": null, "values": [20, 25, 30], "labelOffset": 11, "labelBaseline": "middle"}}}},
           {"transform": [{"filter": "datum.best"}], "mark": {"type": "rect", "filled": false, "stroke": "black", "strokeWidth": 2, "strokeDash": [8, 3.5]}},
           {"transform": [{"filter": "datum.best"}], "mark": {"type": "text", "align": "left", "baseline": "alphabetic", "dy": -7, "fontSize": 16, "color": "black"},
            "encoding": {"x": {"field": "ilm", "type": "ordinal", "bandPosition": 0, "axis": {"values": [0.1, 0.2, 0.3, 0.4], "title": null}}, "y": {"field": "elm", "type": "ordinal", "sort": "descending", "bandPosition": 0, "axis": {"values": [0.1, 0.2, 0.3, 0.4], "title": null, "labels": false}}, "text": {"field": "wer", "type": "quantitative", "format": ".2f"}}}
         ]},
        {"width": 137, "height": 137, "title": "DR-KD-L",
         "transform": [{"filter": "datum.set === '1kh' && datum.model === 'DR-KD-L'"}],
         "encoding": {
           "x": {"field": "ilm", "type": "ordinal", "axis": {"values": [0.1, 0.2, 0.3, 0.4], "title": null}},
           "y": {"field": "elm", "type": "ordinal", "sort": "descending", "axis": {"values": [0.1, 0.2, 0.3, 0.4], "title": null, "labels": false}}
         },
         "layer": [
           {"mark": {"type": "rect"}, "encoding": {"color": {"field": "wer", "type": "quantitative", "scale": {"domain": [15.35, 30], "range": ["#f7fbff", "#deebf7", "#c6dbef", "#9ecae1", "#6baed6", "#4292c6", "#2171b5", "#08519c", "#08306b"], "interpolate": "rgb", "clamp": true}, "legend": {"title": null, "values": [20, 25, 30], "labelOffset": 11, "labelBaseline": "middle"}}}},
           {"transform": [{"filter": "datum.best"}], "mark": {"type": "rect", "filled": false, "stroke": "black", "strokeWidth": 2, "strokeDash": [8, 3.5]}},
           {"transform": [{"filter": "datum.best"}], "mark": {"type": "text", "align": "left", "baseline": "alphabetic", "dy": -7, "fontSize": 16, "color": "black"},
            "encoding": {"x": {"field": "ilm", "type": "ordinal", "bandPosition": 0, "axis": {"values": [0.1, 0.2, 0.3, 0.4], "title": null}}, "y": {"field": "elm", "type": "ordinal", "sort": "descending", "bandPosition": 0, "axis": {"values": [0.1, 0.2, 0.3, 0.4], "title": null, "labels": false}}, "text": {"field": "wer", "type": "quantitative", "format": ".2f"}}}
         ]}
      ],
      "spacing": 12.5, "bounds": "flush",
      "resolve": {"scale": {"color": "shared"}}
    },
    {
      "hconcat": [
        {"width": 137, "height": 137,
         "transform": [{"filter": "datum.set === '10kh' && datum.model === 'DR'"}],
         "encoding": {
           "x": {"field": "ilm", "type": "ordinal", "axis": {"values": [0.1, 0.2, 0.3], "title": null}},
           "y": {"field": "elm", "type": "ordinal", "sort": "descending", "axis": {"values": [0.1, 0.2, 0.3], "title": "zh-10kh"}}
         },
         "layer": [
           {"mark": {"type": "rect"}, "encoding": {"color": {"field": "wer", "type": "quantitative", "scale": {"domain": [8.54, 17.1], "range": ["#f7fbff", "#deebf7", "#c6dbef", "#9ecae1", "#6baed6", "#4292c6", "#2171b5", "#08519c", "#08306b"], "interpolate": "rgb", "clamp": true}, "legend": {"title": null, "values": [10, 12.5, 15], "format": ".1f", "labelOffset": 11, "labelBaseline": "middle"}}}},
           {"transform": [{"filter": "datum.best"}], "mark": {"type": "rect", "filled": false, "stroke": "black", "strokeWidth": 2, "strokeDash": [8, 3.5]}},
           {"transform": [{"filter": "datum.best"}], "mark": {"type": "text", "align": "left", "baseline": "alphabetic", "dy": -7, "fontSize": 16, "color": "black"},
            "encoding": {"x": {"field": "ilm", "type": "ordinal", "bandPosition": 0, "axis": {"values": [0.1, 0.2, 0.3], "title": null}}, "y": {"field": "elm", "type": "ordinal", "sort": "descending", "bandPosition": 0, "axis": {"values": [0.1, 0.2, 0.3], "title": "zh-10kh"}}, "text": {"field": "wer", "type": "quantitative", "format": ".2f"}}}
         ]},
        {"width": 137, "height": 137,
         "transform": [{"filter": "datum.set === '10kh' && datum.model === 'ILME-L'"}],
         "encoding": {
           "x": {"field": "ilm", "type": "ordinal", "axis": {"values": [0.1, 0.2, 0.3], "title": null}},
           "y": {"field": "elm", "type": "ordinal", "sort": "descending", "axis": {"values": [0.1, 0.2, 0.3], "title": null, "labels": false}}
         },
         "layer": [
           {"mark": {"type": "rect"}, "encoding": {"color": {"field": "wer", "type": "quantitative", "scale": {"domain": [8.54, 17.1], "range": ["#f7fbff", "#deebf7", "#c6dbef", "#9ecae1", "#6baed6", "#4292c6", "#2171b5", "#08519c", "#08306b"], "interpolate": "rgb", "clamp": true}, "legend": {"title": null, "values": [10, 12.5, 15], "format": ".1f", "labelOffset": 11, "labelBaseline": "middle"}}}},
           {"transform": [{"filter": "datum.best"}], "mark": {"type": "rect", "filled": false, "stroke": "black", "strokeWidth": 2, "strokeDash": [8, 3.5]}},
           {"transform": [{"filter": "datum.best"}], "mark": {"type": "text", "align": "left", "baseline": "alphabetic", "dy": -7, "fontSize": 16, "color": "black"},
            "encoding": {"x": {"field": "ilm", "type": "ordinal", "bandPosition": 0, "axis": {"values": [0.1, 0.2, 0.3], "title": null}}, "y": {"field": "elm", "type": "ordinal", "sort": "descending", "bandPosition": 0, "axis": {"values": [0.1, 0.2, 0.3], "title": null, "labels": false}}, "text": {"field": "wer", "type": "quantitative", "format": ".2f"}}}
         ]},
        {"width": 137, "height": 137,
         "transform": [{"filter": "datum.set === '10kh' && datum.model === 'DR-KD-L'"}],
         "encoding": {
           "x": {"field": "ilm", "type": "ordinal", "axis": {"values": [0.1, 0.2, 0.3], "title": null}},
           "y": {"field": "elm", "type": "ordinal", "sort": "descending", "axis": {"values": [0.1, 0.2, 0.3], "title": null, "labels": false}}
         },
         "layer": [
           {"mark": {"type": "rect"}, "encoding": {"color": {"field": "wer", "type": "quantitative", "scale": {"domain": [8.54, 17.1], "range": ["#f7fbff", "#deebf7", "#c6dbef", "#9ecae1", "#6baed6", "#4292c6", "#2171b5", "#08519c", "#08306b"], "interpolate": "rgb", "clamp": true}, "legend": {"title": null, "values": [10, 12.5, 15], "format": ".1f", "labelOffset": 11, "labelBaseline": "middle"}}}},
           {"transform": [{"filter": "datum.best"}], "mark": {"type": "rect", "filled": false, "stroke": "black", "strokeWidth": 2, "strokeDash": [8, 3.5]}},
           {"transform": [{"filter": "datum.best"}], "mark": {"type": "text", "align": "left", "baseline": "alphabetic", "dy": -7, "fontSize": 16, "color": "black"},
            "encoding": {"x": {"field": "ilm", "type": "ordinal", "bandPosition": 0, "axis": {"values": [0.1, 0.2, 0.3], "title": null}}, "y": {"field": "elm", "type": "ordinal", "sort": "descending", "bandPosition": 0, "axis": {"values": [0.1, 0.2, 0.3], "title": null, "labels": false}}, "text": {"field": "wer", "type": "quantitative", "format": ".2f"}}}
         ]}
      ],
      "spacing": 12.5, "bounds": "flush",
      "resolve": {"scale": {"color": "shared"}}
    },
    {
      "hconcat": [
        {"width": 137, "height": 137,
         "transform": [{"filter": "datum.set === '100kh' && datum.model === 'DR'"}],
         "encoding": {
           "x": {"field": "ilm", "type": "ordinal", "axis": {"values": [0.1, 0.2, 0.3], "title": null}},
           "y": {"field": "elm", "type": "ordinal", "sort": "descending", "axis": {"values": [0.1, 0.2, 0.3, 0.4], "title": "zh-100kh"}}
         },
         "layer": [
           {"mark": {"type": "rect"}, "encoding": {"color": {"field": "wer", "type": "quantitative", "scale": {"domain": [7.12, 15.05], "range": ["#f7fbff", "#deebf7", "#c6dbef", "#9ecae1", "#6baed6", "#4292c6", "#2171b5", "#08519c", "#08306b"], "interpolate": "rgb", "clamp": true}, "legend": {"title": null, "values": [8, 10, 12, 14], "labelOffset": 11, "labelBaseline": "middle"}}}},
           {"transform": [{"filter": "datum.best"}], "mark": {"type": "rect", "filled": false, "stroke": "black", "strokeWidth": 2, "strokeDash": [8, 3.5]}},
           {"transform": [{"filter": "datum.best"}], "mark": {"type": "text", "align": "left", "baseline": "alphabetic", "dy": -7, "fontSize": 16, "color": "black"},
            "encoding": {"x": {"field": "ilm", "type": "ordinal", "bandPosition": 0, "axis": {"values": [0.1, 0.2, 0.3], "title": null}}, "y": {"field": "elm", "type": "ordinal", "sort": "descending", "bandPosition": 0, "axis": {"values": [0.1, 0.2, 0.3, 0.4], "title": "zh-100kh"}}, "text": {"field": "wer", "type": "quantitative", "format": ".2f"}}}
         ]},
        {"width": 137, "height": 137,
         "transform": [{"filter": "datum.set === '100kh' && datum.model === 'ILME-L'"}],
         "encoding": {
           "x": {"field": "ilm", "type": "ordinal", "axis": {"values": [0.1, 0.2, 0.3, 0.4], "title": null}},
           "y": {"field": "elm", "type": "ordinal", "sort": "descending", "axis": {"values": [0.1, 0.2, 0.3, 0.4], "title": null, "labels": false}}
         },
         "layer": [
           {"mark": {"type": "rect"}, "encoding": {"color": {"field": "wer", "type": "quantitative", "scale": {"domain": [7.12, 15.05], "range": ["#f7fbff", "#deebf7", "#c6dbef", "#9ecae1", "#6baed6", "#4292c6", "#2171b5", "#08519c", "#08306b"], "interpolate": "rgb", "clamp": true}, "legend": {"title": null, "values": [8, 10, 12, 14], "labelOffset": 11, "labelBaseline": "middle"}}}},
           {"transform": [{"filter": "datum.best"}], "mark": {"type": "rect", "filled": false, "stroke": "black", "strokeWidth": 2, "strokeDash": [8, 3.5]}},
           {"transform": [{"filter": "datum.best"}], "mark": {"type": "text", "align": "left", "baseline": "alphabetic", "dy": -7, "fontSize": 16, "color": "black"},
            "encoding": {"x": {"field": "ilm", "type": "ordinal", "bandPosition": 0, "axis": {"values": [0.1, 0.2, 0.3, 0.4], "title": null}}, "y": {"field": "elm", "type": "ordinal", "sort": "descending", "bandPosition": 0, "axis": {"values": [0.1, 0.2, 0.3, 0.4], "title": null, "labels": false}}, "text": {"field": "wer", "type": "quantitative", "format": ".2f"}}}
         ]},
        {"width": 137, "height": 137,
         "title": {"text": "λ", "orient": "bottom", "anchor": "end", "frame": "group", "fontSize": 17, "fontStyle": "italic", "offset": 0, "dx": -21, "dy": -17},
         "transform": [{"filter": "datum.set === '100kh' && datum.model === 'DR-KD-L'"}],
         "encoding": {
           "x": {"field": "ilm", "type": "ordinal", "axis": {"values": [0.1, 0.2, 0.3, 0.4], "title": "ILM", "titleAnchor": "end", "titleFontSize": 11.5, "titlePadding": 12.5}},
           "y": {"field": "elm", "type": "ordinal", "sort": "descending", "axis": {"values": [0.1, 0.2, 0.3, 0.4], "title": null, "labels": false}}
         },
         "layer": [
           {"mark": {"type": "rect"}, "encoding": {"color": {"field": "wer", "type": "quantitative", "scale": {"domain": [7.12, 15.05], "range": ["#f7fbff", "#deebf7", "#c6dbef", "#9ecae1", "#6baed6", "#4292c6", "#2171b5", "#08519c", "#08306b"], "interpolate": "rgb", "clamp": true}, "legend": {"title": null, "values": [8, 10, 12, 14], "labelOffset": 11, "labelBaseline": "middle"}}}},
           {"transform": [{"filter": "datum.best"}], "mark": {"type": "rect", "filled": false, "stroke": "black", "strokeWidth": 2, "strokeDash": [8, 3.5]}},
           {"transform": [{"filter": "datum.best"}], "mark": {"type": "text", "align": "left", "baseline": "alphabetic", "dy": -7, "fontSize": 16, "color": "black"},
            "encoding": {"x": {"field": "ilm", "type": "ordinal", "bandPosition": 0, "axis": {"values": [0.1, 0.2, 0.3, 0.4], "title": "ILM", "titleAnchor": "end", "titleFontSize": 11.5, "titlePadding": 12.5}}, "y": {"field": "elm", "type": "ordinal", "sort": "descending", "bandPosition": 0, "axis": {"values": [0.1, 0.2, 0.3, 0.4], "title": null, "labels": false}}, "text": {"field": "wer", "type": "quantitative", "format": ".2f"}}}
         ]}
      ],
      "spacing": 12.5, "bounds": "flush",
      "resolve": {"scale": {"color": "shared"}}
    }
  ]
}
